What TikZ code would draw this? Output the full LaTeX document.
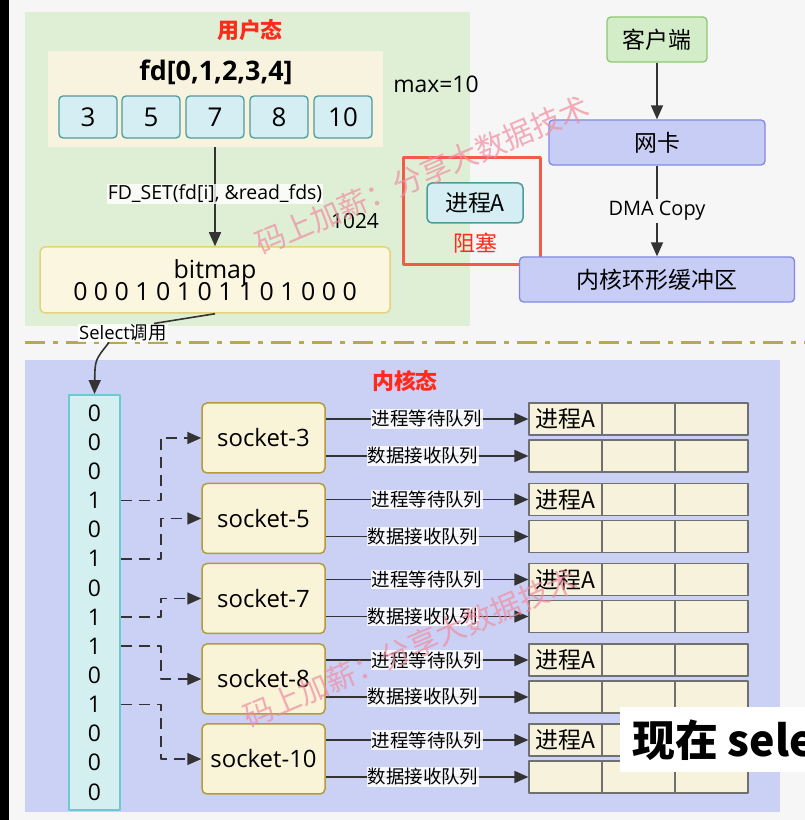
\documentclass[tikz,border=0pt]{standalone}
\usepackage{fontspec}
\setmainfont{Open Sans}
\newfontfamily\cjk{Noto Sans CJK SC}
\usetikzlibrary{arrows.meta}
\newcommand\fsz[1]{\fontsize{#1}{#1}\selectfont}
\definecolor{pagebg}{HTML}{F6F6F6}
\definecolor{userbg}{HTML}{DEEFD6}
\definecolor{kernbg}{HTML}{CBD1F4}
\definecolor{fdfill}{HTML}{F8F3DF}
\definecolor{cellfill}{HTML}{D5EEF3}
\definecolor{cellline}{HTML}{4D9C9A}
\definecolor{bitfill}{HTML}{FBF6E0}
\definecolor{bitline}{HTML}{E3D27E}
\definecolor{redline}{HTML}{F25A4A}
\definecolor{redtext}{HTML}{FF2A1A}
\definecolor{clientfill}{HTML}{D4EDC9}
\definecolor{clientline}{HTML}{8CC873}
\definecolor{kfill}{HTML}{C8CDF5}
\definecolor{kline}{HTML}{7F89E3}
\definecolor{sepcol}{HTML}{B8A94F}
\definecolor{colfill}{HTML}{D3EFF0}
\definecolor{colline}{HTML}{6CC9CF}
\definecolor{sockfill}{HTML}{F9F3D8}
\definecolor{sockline}{HTML}{B59B3B}
\definecolor{qfill}{HTML}{F6F2DC}
\definecolor{qline}{HTML}{707070}
\definecolor{wmark}{HTML}{F08CA0}
\begin{document}
\begin{tikzpicture}[>={Triangle[length=14bp,width=12bp]},line join=bevel,
  conn/.style={draw=black!80,line width=1.6bp},
  dashconn/.style={conn,dash pattern=on 11bp off 7bp},
  title/.style={font=\fsz{22}\cjk\bfseries,text=redtext},
  cell/.style={draw=cellline,fill=cellfill,rounded corners=4bp,line width=1.3bp,minimum width=58bp,minimum height=42bp,inner sep=0pt,font=\fsz{26}},
  kbox/.style={draw=kline,fill=kfill,rounded corners=4bp,line width=1.3bp,minimum height=45bp,inner sep=0pt,font=\fsz{23}\cjk},
  sockbox/.style={draw=sockline,fill=sockfill,rounded corners=5bp,line width=1.5bp,minimum width=123bp,minimum height=70bp,inner sep=0pt,font=\fsz{24}},
  qcell/.style={draw=qline,fill=qfill,line width=1.2bp,minimum width=73bp,minimum height=32bp,inner sep=0pt,font=\fsz{23}\cjk},
  qlabel/.style={fill=white,fill opacity=.85,text opacity=1,inner sep=1bp,font=\fsz{18.5}\cjk},
  watermark/.style={font=\fsz{30}\cjk,text=wmark,text opacity=.7,rotate=23},
]
%%
\useasboundingbox (0,0) rectangle (805bp,820bp);
\fill[pagebg] (0,0) rectangle (805bp,820bp);
\fill[black] (0,0) rectangle (9bp,820bp);
\fill[userbg] (25bp,494bp) rectangle (470bp,808bp);
\fill[kernbg] (25bp,8bp) rectangle (780bp,460bp);
\draw[sepcol,line width=3bp,dash pattern=on 20bp off 8bp on 5bp off 8bp] (25bp,477bp) -- (805bp,477bp);
%% user space
\node (user_title) at (250bp,790bp) [title] {用户态};
\node (fd_box) at (215bp,721bp) [fill=fdfill,minimum width=335bp,minimum height=96bp] {};
\node (fd_title) at (216bp,748bp) [font=\fsz{27}\bfseries] {fd[0,1,2,3,4]};
\foreach \v/\x in {3/88,5/151,7/215,8/279,10/343}
  \node (cell_\v) at (\x bp,703bp) [cell] {\v};
\node (max_lbl) at (436bp,736bp) [font=\fsz{23}] {max=10};
\node (bitmap) at (215bp,540bp) [draw=bitline,fill=bitfill,rounded corners=5bp,line width=1.5bp,minimum width=350bp,minimum height=66bp,align=center,font=\fsz{25}] {bitmap\\[-3bp]0 0 0 1 0 1 0 1 1 0 1 0 0 0};
\draw [->,conn] (fd_box.south) -- (bitmap.north) node[pos=0.47,fill=white,fill opacity=.8,text opacity=1,inner sep=1bp,font=\fsz{19.5}] {FD\_SET(fd[i], \&read\_fds)};
\node (num_1024) at (355bp,599bp) [font=\fsz{21}] {1024};
\node (block_frame) at (471.5bp,608.5bp) [draw=redline,line width=3bp,minimum width=137bp,minimum height=107bp] {};
\node (proc_a) at (475bp,617bp) [draw=cellline,fill=cellfill,rounded corners=5bp,line width=1.5bp,minimum width=96bp,minimum height=40bp,font=\fsz{23}\cjk] {进程A};
\node (block_lbl) at (475bp,577bp) [font=\fsz{22}\cjk,text=redtext] {阻塞};
%% NIC side
\node (client) at (657bp,780.5bp) [draw=clientline,fill=clientfill,rounded corners=4bp,line width=1.3bp,minimum width=100bp,minimum height=45bp,font=\fsz{23}\cjk] {客户端};
\node (nic) at (657bp,677.5bp) [kbox,minimum width=216bp] {网卡};
\node (ring) at (657bp,540.5bp) [kbox,minimum width=275bp] {内核环形缓冲区};
\draw [->,conn] (client) -- (nic);
\draw [->,conn] (nic) -- (ring) node[midway,fill=pagebg,inner sep=2bp,font=\fsz{20}] {DMA Copy};
%% select call
\node (sel_call) at (123bp,487bp) [fill=white,fill opacity=.85,text opacity=1,inner sep=1bp,font=\fsz{18.5}] {Select{\cjk 调用}};
\draw [conn] (bitmap.south) -- ([xshift=-14bp]sel_call.north east);
%% kernel space
\node (kern_title) at (405bp,439bp) [title] {内核态};
\node (bit_col) at (94.5bp,217.5bp) [draw=colline,fill=colfill,line width=1.8bp,minimum width=51bp,minimum height=415bp] {};
\draw [->,conn] ([xshift=-14bp]sel_call.south) .. controls (95bp,460bp) .. (bit_col.north);
\foreach \b [count=\i from 0] in {0,0,0,1,0,1,0,1,1,0,1,0,0,0}
  \node (bit_\i) at (94.5bp,{407bp-\i*29.15bp}) [font=\fsz{23}] {\b};
\foreach \s/\y in {3/382,5/301.5,7/221.5,8/141,10/61} {
  \node (sock_\s) at (263.5bp,\y bp) [sockbox] {socket-\s};
  \node (wq_\s_1) at (565.5bp,{\y bp+19bp}) [qcell] {进程A};
  \node (rq_\s_1) at (565.5bp,{\y bp-18bp}) [qcell] {};
  \foreach \c/\x in {2/638.5,3/711.5} {
    \node (wq_\s_\c) at (\x bp,{\y bp+19bp}) [qcell] {};
    \node (rq_\s_\c) at (\x bp,{\y bp-18bp}) [qcell] {};
  }
  \draw [->,conn] (sock_\s.east |- wq_\s_1) -- (wq_\s_1.west) node[midway,qlabel] {进程等待队列};
  \draw [->,conn] (sock_\s.east |- rq_\s_1) -- (rq_\s_1.west) node[pos=0.48,qlabel] {数据接收队列};
  \draw [->,dashconn] (bit_col.east |- bit_\s) -- ++(40bp,0) |- (sock_\s.west);
}
%% overlays
\node (wm_1) at (422bp,645bp) [watermark] {码上加薪：分享大数据技术};
\node (wm_2) at (410bp,172bp) [watermark] {码上加薪：分享大数据技术};
\node (subtitle) at (620bp,80bp) [anchor=west,fill=white,minimum height=65bp,inner xsep=12bp,font=\fsz{43}\cjk\bfseries] {现在 sele};
%
\end{tikzpicture}
\end{document}
